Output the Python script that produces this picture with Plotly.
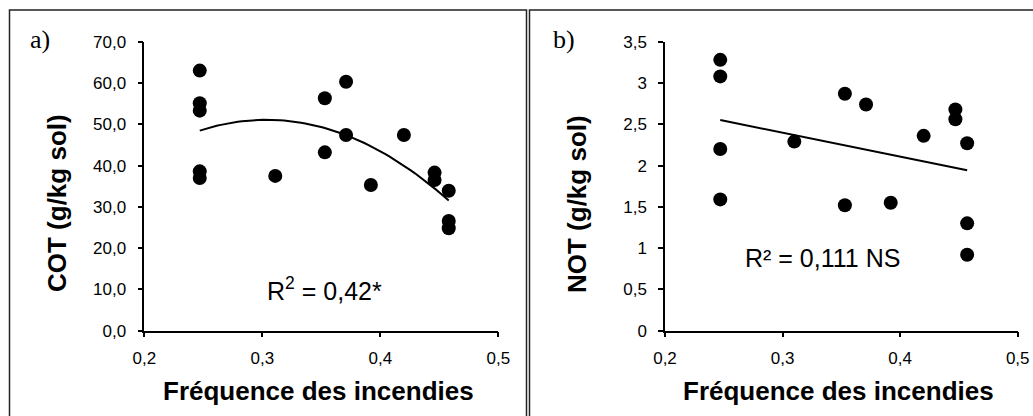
import numpy as np
import plotly.graph_objects as go

W, H = 1033, 416

# Panel a) COT
cot_x = [0.247, 0.247, 0.247, 0.247, 0.247, 0.311, 0.353, 0.353, 0.371, 0.371,
         0.392, 0.420, 0.446, 0.446, 0.458, 0.458, 0.458]
cot_y = [63.0, 55.1, 53.3, 38.6, 37.0, 37.5, 56.3, 43.2, 60.3, 47.4,
         35.3, 47.4, 38.3, 36.5, 33.9, 26.6, 24.8]

# Panel b) NOT
not_x = [0.247, 0.247, 0.247, 0.247, 0.310, 0.353, 0.353, 0.371, 0.392, 0.420,
         0.447, 0.447, 0.457, 0.457, 0.457]
not_y = [3.28, 3.08, 2.20, 1.59, 2.29, 2.87, 1.52, 2.74, 1.55, 2.36,
         2.68, 2.56, 2.27, 1.30, 0.92]

x_ticks = [0.2, 0.3, 0.4, 0.5]
x_ticktext = ["0,2", "0,3", "0,4", "0,5"]
cot_ticks = [0, 10, 20, 30, 40, 50, 60, 70]
cot_ticktext = ["0,0", "10,0", "20,0", "30,0", "40,0", "50,0", "60,0", "70,0"]
not_ticks = [0, 0.5, 1, 1.5, 2, 2.5, 3, 3.5]
not_ticktext = ["0", "0,5", "1", "1,5", "2", "2,5", "3", "3,5"]


def px(x):
    return x / W


def py(y):
    return 1 - y / H


# trendlines (regressions computed from the data)
c2 = np.polyfit(cot_x, cot_y, 2)
tx_a = np.linspace(min(cot_x), max(cot_x), 60)
ty_a = np.polyval(c2, tx_a)
c1 = np.polyfit(not_x, not_y, 1)
tx_b = np.array([min(not_x), max(not_x)])
ty_b = np.polyval(c1, tx_b)

fig = go.Figure()
mk = dict(color="black", size=14, line=dict(width=0))
fig.add_trace(go.Scatter(x=cot_x, y=cot_y, mode="markers", marker=mk,
                         xaxis="x", yaxis="y", showlegend=False))
fig.add_trace(go.Scatter(x=tx_a, y=ty_a, mode="lines", line=dict(color="black", width=2),
                         xaxis="x", yaxis="y", showlegend=False))
fig.add_trace(go.Scatter(x=not_x, y=not_y, mode="markers", marker=mk,
                         xaxis="x2", yaxis="y2", showlegend=False))
fig.add_trace(go.Scatter(x=tx_b, y=ty_b, mode="lines", line=dict(color="black", width=2),
                         xaxis="x2", yaxis="y2", showlegend=False))

tickfont = dict(family="Liberation Sans, Arial", size=17, color="black")
ax_common = dict(showgrid=False, zeroline=False, showline=True, linecolor="black",
                 linewidth=1.5, ticks="outside", ticklen=5, tickwidth=1.5,
                 tickcolor="black", tickfont=tickfont, fixedrange=True, automargin=False)

ydom = [py(330.7), py(41.7)]
fig.update_layout(
    template="none",
    width=W, height=H, margin=dict(l=0, r=0, t=0, b=0, pad=0), autosize=False,
    paper_bgcolor="white", plot_bgcolor="white",
    xaxis=dict(domain=[px(144.3), px(498.3)], range=[0.2, 0.5], tickvals=x_ticks,
               ticktext=x_ticktext, anchor="y", ticklabelstandoff=6, **ax_common),
    yaxis=dict(domain=ydom, range=[0, 70], tickvals=cot_ticks, ticktext=cot_ticktext,
               anchor="x", ticklabelstandoff=8, **ax_common),
    xaxis2=dict(domain=[px(665), px(1017.7)], range=[0.2, 0.5], tickvals=x_ticks,
                ticktext=x_ticktext, anchor="y2", ticklabelstandoff=6, **ax_common),
    yaxis2=dict(domain=ydom, range=[0, 3.5], tickvals=not_ticks, ticktext=not_ticktext,
                anchor="x2", ticklabelstandoff=8, **ax_common),
)

# panel frames
fig.add_shape(type="rect", xref="paper", yref="paper", x0=px(9.5), x1=px(526.5),
              y0=py(430), y1=py(10), line=dict(color="#222", width=1.5))
fig.add_shape(type="rect", xref="paper", yref="paper", x0=px(529.5), x1=px(1045),
              y0=py(430), y1=py(10), line=dict(color="#222", width=1.5))

titlefont = dict(family="Liberation Sans, Arial", size=26, color="black")
ann = [
    dict(x=px(318), y=py(391), text="<b>Fréquence des incendies</b>", font=titlefont),
    dict(x=px(838), y=py(391), text="<b>Fréquence des incendies</b>", font=titlefont),
    dict(x=px(57), y=py(203), text="<b>COT (g/kg sol)</b>", font=titlefont, textangle=-90),
    dict(x=px(577), y=py(204), text="<b>NOT (g/kg sol)</b>", font=titlefont, textangle=-90),
    dict(x=px(40), y=py(39), text="a)", font=dict(family="Liberation Serif", size=26, color="black")),
    dict(x=px(564), y=py(39), text="b)", font=dict(family="Liberation Serif", size=26, color="black")),
    dict(x=px(324), y=py(289), text="R<sup>2</sup> = 0,42*",
         font=dict(family="Liberation Sans, Arial", size=25, color="black")),
    dict(x=px(822), y=py(258), text="R² = 0,111 NS",
         font=dict(family="Liberation Sans, Arial", size=25, color="black")),
]
for a in ann:
    a.update(xref="paper", yref="paper", showarrow=False, xanchor="center", yanchor="middle")
    fig.add_annotation(**a)

fig.write_html("out.html", config={"displayModeBar": False},
               post_script="document.body.style.margin='0';document.body.style.overflow='hidden';")
